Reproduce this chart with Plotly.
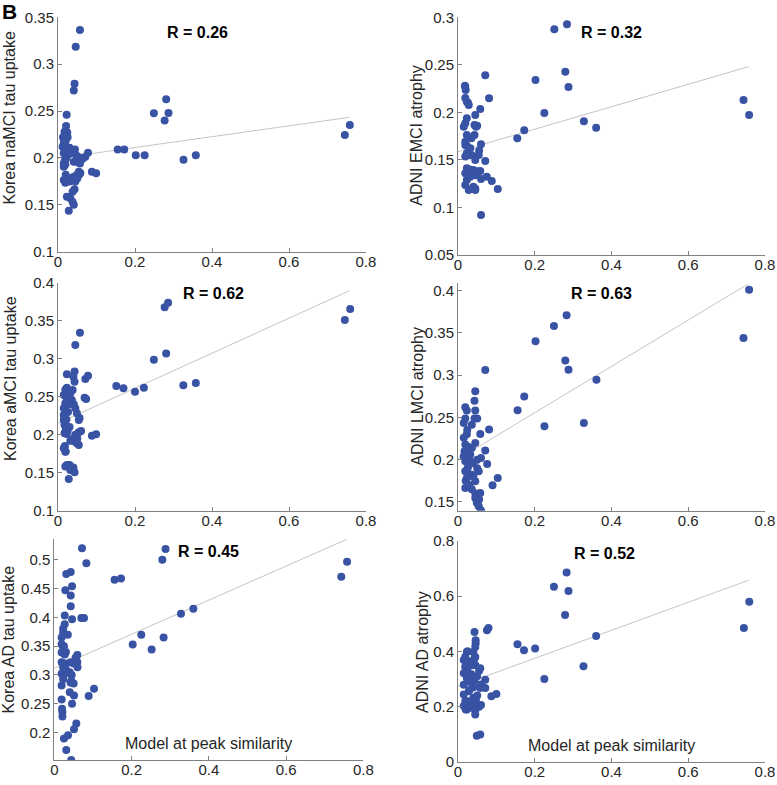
import plotly.graph_objects as go

W, H = 777, 785

namci_x = [0.057, 0.046, 0.043, 0.041, 0.0225, 0.021, 0.017, 0.024, 0.0156, 0.015, 0.019, 0.023, 0.036, 0.041,
           0.015, 0.028, 0.019, 0.015, 0.019, 0.041, 0.049, 0.062, 0.071, 0.078, 0.015, 0.054, 0.049, 0.041,
           0.032, 0.023, 0.015, 0.019, 0.088, 0.099, 0.043, 0.038, 0.023, 0.032, 0.041, 0.038, 0.028,
           0.025, 0.020, 0.030, 0.034, 0.026, 0.018, 0.055, 0.058, 0.050, 0.045, 0.057, 0.060, 0.066, 0.053,
           0.030, 0.036, 0.022, 0.012, 0.013, 0.020, 0.044, 0.047,
           0.155, 0.172, 0.202, 0.225, 0.249, 0.277, 0.281, 0.287, 0.326, 0.358, 0.745, 0.758]
namci_y = [0.3365, 0.3187, 0.279, 0.272, 0.246, 0.234, 0.228, 0.227, 0.219, 0.215, 0.212, 0.2085, 0.2085, 0.207,
           0.205, 0.204, 0.200, 0.194, 0.193, 0.196, 0.196, 0.1985, 0.2013, 0.2056, 0.1907, 0.1853, 0.1818, 0.180,
           0.1783, 0.1772, 0.1765, 0.1736, 0.1853, 0.1836, 0.1666, 0.164, 0.1587, 0.157, 0.150, 0.153, 0.1437,
           0.222, 0.218, 0.211, 0.206, 0.209, 0.197, 0.182, 0.184, 0.178, 0.175, 0.194, 0.200, 0.200, 0.201,
           0.175, 0.178, 0.200, 0.212, 0.222, 0.182, 0.209, 0.203,
           0.209, 0.209, 0.203, 0.203, 0.2476, 0.240, 0.2625, 0.248, 0.198, 0.203, 0.2245, 0.235]

emci_x = [0.071, 0.019, 0.020, 0.081, 0.019, 0.023, 0.028, 0.058, 0.045, 0.023, 0.019, 0.015, 0.043, 0.047,
          0.023, 0.043, 0.035, 0.019, 0.019, 0.060, 0.032, 0.023, 0.035, 0.054, 0.019, 0.045, 0.071, 0.023,
          0.040, 0.058, 0.019, 0.047, 0.032, 0.075, 0.023, 0.088, 0.019, 0.040, 0.045, 0.1036, 0.028, 0.060,
          0.026, 0.050, 0.030, 0.055, 0.050, 0.030, 0.060, 0.023, 0.045, 0.026, 0.018,
          0.1545, 0.1726, 0.202, 0.225, 0.251, 0.2796, 0.284, 0.288, 0.328, 0.360, 0.744, 0.7586]
emci_y = [0.239, 0.227, 0.2235, 0.2148, 0.215, 0.2113, 0.2078, 0.2035, 0.1973, 0.1938, 0.1885, 0.185, 0.1867, 0.185,
          0.1762, 0.1762, 0.1727, 0.1692, 0.1657, 0.1664, 0.1622, 0.157, 0.1552, 0.1552, 0.1535, 0.150, 0.1489, 0.1412,
          0.1394, 0.1383, 0.1359, 0.134, 0.1324, 0.1324, 0.1289, 0.1278, 0.1236, 0.1219, 0.1184, 0.1194, 0.1184, 0.092,
          0.210, 0.186, 0.155, 0.160, 0.138, 0.140, 0.130, 0.165, 0.120, 0.132, 0.228,
          0.1727, 0.1811, 0.234, 0.1993, 0.2874, 0.2428, 0.2926, 0.2267, 0.1906, 0.1839, 0.213, 0.1972]

amci_x = [0.057, 0.045, 0.023, 0.043, 0.040, 0.043, 0.078, 0.071, 0.023, 0.019, 0.038, 0.032, 0.015, 0.023,
          0.069, 0.073, 0.036, 0.041, 0.019, 0.015, 0.045, 0.015, 0.049, 0.054, 0.015, 0.017, 0.020, 0.054,
          0.023, 0.017, 0.088, 0.099, 0.041, 0.049, 0.041, 0.032, 0.054, 0.015, 0.019, 0.023, 0.019, 0.032,
          0.043, 0.028, 0.026, 0.022, 0.030, 0.025, 0.060, 0.050, 0.045, 0.018, 0.020, 0.040, 0.030, 0.028,
          0.021, 0.056,
          0.1515, 0.170, 0.200, 0.223, 0.249, 0.277, 0.286, 0.281, 0.3255, 0.358, 0.745, 0.759]
amci_y = [0.334, 0.318, 0.2795, 0.283, 0.2763, 0.2697, 0.2776, 0.2733, 0.2618, 0.259, 0.2588, 0.2545, 0.2522, 0.2522,
          0.2487, 0.247, 0.2457, 0.240, 0.2413, 0.2347, 0.2347, 0.226, 0.2281, 0.2193, 0.2193, 0.2128, 0.2062, 0.2031,
          0.201, 0.202, 0.1987, 0.2005, 0.1953, 0.1887, 0.1915, 0.192, 0.1865, 0.1821, 0.1777, 0.160, 0.158, 0.1536,
          0.1505, 0.1417, 0.230, 0.220, 0.210, 0.205, 0.205, 0.195, 0.200, 0.185, 0.178, 0.157, 0.160, 0.240,
          0.250, 0.222,
          0.264, 0.261, 0.2566, 0.2618, 0.2987, 0.3676, 0.3737, 0.307, 0.265, 0.268, 0.351, 0.3654]

lmci_x = [0.071, 0.045, 0.043, 0.019, 0.023, 0.045, 0.043, 0.050, 0.019, 0.015, 0.036, 0.081, 0.058, 0.023,
          0.015, 0.045, 0.019, 0.036, 0.071, 0.023, 0.015, 0.032, 0.060, 0.019, 0.040, 0.076, 0.028, 0.054,
          0.019, 0.036, 0.023, 0.045, 0.1036, 0.090, 0.019, 0.058, 0.036, 0.045, 0.049, 0.054, 0.060,
          0.030, 0.025, 0.050, 0.030, 0.045, 0.028, 0.024, 0.050, 0.040, 0.055, 0.050, 0.020, 0.017,
          0.1553, 0.1726, 0.202, 0.2253, 0.250, 0.2796, 0.283, 0.288, 0.328, 0.3607, 0.744, 0.7586]
lmci_y = [0.306, 0.2807, 0.2697, 0.2618, 0.258, 0.258, 0.2485, 0.2485, 0.2485, 0.2434, 0.2414, 0.2355, 0.2304, 0.230,
          0.226, 0.2198, 0.2178, 0.2139, 0.2107, 0.208, 0.204, 0.206, 0.202, 0.198, 0.1962, 0.195, 0.1935, 0.1863,
          0.1863, 0.1823, 0.1784, 0.1744, 0.1784, 0.1697, 0.1666, 0.1607, 0.165, 0.1548, 0.149, 0.1449, 0.1398,
          0.200, 0.190, 0.190, 0.170, 0.160, 0.215, 0.235, 0.200, 0.180, 0.153, 0.157, 0.175, 0.210,
          0.2583, 0.2745, 0.3398, 0.2394, 0.358, 0.3173, 0.3705, 0.3063, 0.2434, 0.2945, 0.3438, 0.4008]

kad_x = [0.0717, 0.083, 0.031, 0.0425, 0.046, 0.0286, 0.0425, 0.0425, 0.027, 0.046, 0.070, 0.077, 0.027, 0.023,
         0.023, 0.019, 0.019, 0.023, 0.019, 0.0596, 0.027, 0.019, 0.042, 0.0596, 0.060, 0.023, 0.040, 0.019,
         0.044, 0.023, 0.019, 0.042, 0.1028, 0.089, 0.040, 0.051, 0.046, 0.019, 0.020, 0.021, 0.021, 0.057,
         0.051, 0.0355, 0.025, 0.031, 0.044,
         0.030, 0.025, 0.030, 0.050, 0.055, 0.025, 0.045, 0.050, 0.035, 0.030,
         0.156, 0.1727, 0.203, 0.2253, 0.252, 0.283, 0.2797, 0.288, 0.328, 0.360, 0.743, 0.758]
kad_y = [0.520, 0.4943, 0.4753, 0.4788, 0.454, 0.447, 0.438, 0.4195, 0.4034, 0.3966, 0.399, 0.399, 0.388, 0.3805,
         0.3736, 0.365, 0.3534, 0.348, 0.339, 0.3345, 0.3355, 0.322, 0.322, 0.3225, 0.3133, 0.313, 0.3046, 0.302,
         0.290, 0.2925, 0.2816, 0.287, 0.2759, 0.2633, 0.270, 0.2643, 0.250, 0.2574, 0.2414, 0.2355, 0.228, 0.2155,
         0.2057, 0.1954, 0.1897, 0.1695, 0.152,
         0.340, 0.350, 0.320, 0.320, 0.330, 0.300, 0.300, 0.285, 0.370, 0.310,
         0.4655, 0.4678, 0.353, 0.370, 0.3443, 0.365, 0.500, 0.519, 0.4063, 0.415, 0.4707, 0.4966]

aad_x = [0.0795, 0.0755, 0.043, 0.046, 0.046, 0.045, 0.023, 0.040, 0.019, 0.043, 0.015, 0.028, 0.019, 0.045,
         0.058, 0.015, 0.035, 0.023, 0.071, 0.043, 0.015, 0.058, 0.071, 0.028, 0.015, 0.087, 0.100, 0.040,
         0.019, 0.047, 0.060, 0.015, 0.032, 0.023, 0.045, 0.049, 0.058,
         0.047, 0.030, 0.025, 0.030, 0.050, 0.030, 0.040, 0.025, 0.035, 0.050, 0.020, 0.030, 0.040, 0.045,
         0.055, 0.060, 0.040, 0.045, 0.055, 0.020, 0.025,
         0.155, 0.172, 0.201, 0.225, 0.250, 0.283, 0.288, 0.279, 0.327, 0.360, 0.745, 0.759]
aad_y = [0.484, 0.476, 0.4697, 0.4397, 0.428, 0.416, 0.398, 0.398, 0.3805, 0.375, 0.3686, 0.3646, 0.3448, 0.351,
         0.339, 0.3212, 0.3172, 0.303, 0.297, 0.2932, 0.279, 0.2675, 0.2675, 0.2557, 0.2437, 0.2378, 0.246, 0.232,
         0.220, 0.220, 0.2058, 0.2022, 0.196, 0.190, 0.172, 0.095, 0.099,
         0.208, 0.350, 0.330, 0.300, 0.310, 0.260, 0.270, 0.220, 0.200, 0.240, 0.190, 0.290, 0.350, 0.380,
         0.330, 0.280, 0.210, 0.185, 0.200, 0.340, 0.400,
         0.4255, 0.404, 0.410, 0.2996, 0.6337, 0.6847, 0.618, 0.5314, 0.346, 0.4554, 0.484, 0.579]

y_titles = ["Korea naMCI tau uptake", "ADNI EMCI atrophy", "Korea aMCI tau uptake",
            "ADNI LMCI atrophy", "Korea AD tau uptake", "ADNI AD atrophy"]
r_labels = ["R = 0.26", "R = 0.32", "R = 0.62", "R = 0.63", "R = 0.45", "R = 0.52"]
# regression line end points
fit_x = [0, 0.757]
fit_y = [[0.1996, 0.2433], [0.1587, 0.2481], [0.215, 0.3895],
         [0.2008, 0.4079], [0.3115, 0.5356], [0.2734, 0.657]]
xlabel = "Model at peak similarity"

xs = [namci_x, emci_x, amci_x, lmci_x, kad_x, aad_x]
ys = [namci_y, emci_y, amci_y, lmci_y, kad_y, aad_y]

# pixel boxes of each axes: (x0, x1, ytop, ybottom), y range, y ticks
panels = [
    dict(box=(58, 366, 17.3, 251.7), yr=[0.1, 0.35], yt=[0.1, 0.15, 0.2, 0.25, 0.3, 0.35],
         rpos=(0.362, 0.3343), tpos=(10, 117.6)),
    dict(box=(458, 765, 17.3, 255), yr=[0.05, 0.3], yt=[0.05, 0.1, 0.15, 0.2, 0.25, 0.3],
         rpos=(0.401, 0.2845), tpos=(416.7, 136)),
    dict(box=(58, 366, 282.7, 510.7), yr=[0.1, 0.4], yt=[0.1, 0.15, 0.2, 0.25, 0.3, 0.35, 0.4],
         rpos=(0.405, 0.3864), tpos=(10, 379)),
    dict(box=(458, 765, 282.7, 510.7), yr=[0.1397, 0.4091], yt=[0.15, 0.2, 0.25, 0.3, 0.35, 0.4],
         rpos=(0.375, 0.396), tpos=(416.7, 396)),
    dict(box=(54.3, 363.3, 539.3, 760), yr=[0.1522, 0.5357], yt=[0.2, 0.25, 0.3, 0.35, 0.4, 0.45, 0.5],
         rpos=(0.4, 0.5138), tpos=(7.5, 640)),
    dict(box=(458, 765, 540.7, 762), yr=[0, 0.8], yt=[0, 0.2, 0.4, 0.6, 0.8],
         rpos=(0.382, 0.7525), tpos=(422, 652)),
]

FONT = "Liberation Sans, Arial, sans-serif"
TXT = "#262626"
AX = "#808080"
BLUE = "#3953a4"

fig = go.Figure()
layout = dict(width=W, height=H, margin=dict(l=0, r=0, t=0, b=0, pad=0),
              paper_bgcolor="white", plot_bgcolor="white", showlegend=False,
              font=dict(family=FONT, color=TXT, size=15))
annotations = []

for i, p in enumerate(panels):
    n = "" if i == 0 else str(i + 1)
    x0, x1, yt_px, yb_px = p["box"]
    fig.add_trace(go.Scatter(x=fit_x, y=fit_y[i], mode="lines", xaxis="x" + n, yaxis="y" + n,
                             line=dict(color="#c4c4c4", width=1), hoverinfo="skip"))
    fig.add_trace(go.Scatter(x=xs[i], y=ys[i], mode="markers", xaxis="x" + n, yaxis="y" + n,
                             marker=dict(color=BLUE, size=8, line=dict(width=0))))
    common = dict(showgrid=False, zeroline=False, showline=True, linecolor=AX, linewidth=1,
                  automargin=False, ticks="inside", ticklen=4, tickcolor=AX,
                  ticklabeloverflow="allow", tickfont=dict(size=15, color=TXT))
    layout["xaxis" + n] = dict(common, domain=[x0 / W, x1 / W], anchor="y" + n, range=[0, 0.8],
                               ticklabelstandoff=-4,
                               tickvals=[0, 0.2, 0.4, 0.6, 0.8], ticktext=["0", "0.2", "0.4", "0.6", "0.8"])
    layout["yaxis" + n] = dict(common, domain=[1 - yb_px / H, 1 - yt_px / H], anchor="x" + n, range=p["yr"],
                               tickvals=p["yt"], ticktext=["%g" % v for v in p["yt"]])
    annotations.append(dict(x=p["rpos"][0], y=p["rpos"][1], xref="x" + n, yref="y" + n,
                            text="<b>%s</b>" % r_labels[i], showarrow=False,
                            xanchor="center", yanchor="middle", font=dict(size=16, color="black")))
    annotations.append(dict(x=p["tpos"][0] / W, y=1 - p["tpos"][1] / H, xref="paper", yref="paper",
                            text=y_titles[i], textangle=-90, showarrow=False,
                            xanchor="center", yanchor="middle", font=dict(size=16, color=TXT)))
    if i >= 4:
        annotations.append(dict(x=0.5, y=0, xref="x" + n + " domain", yref="y" + n + " domain",
                                xanchor="center", yanchor="bottom", yshift=6, text=xlabel,
                                showarrow=False, font=dict(size=16, color=TXT)))

annotations.append(dict(x=9.5 / W, y=1 - 12 / H, xref="paper", yref="paper", text="<b>B</b>",
                        xanchor="center", yanchor="middle", showarrow=False,
                        font=dict(size=21, color="black")))
layout["annotations"] = annotations
fig.update_layout(**layout)
# drop the page's default body margin so the 777x785 figure fills the window exactly
fig.write_html("out.html", config={"displayModeBar": False},
               post_script="document.body.style.margin='0';")
